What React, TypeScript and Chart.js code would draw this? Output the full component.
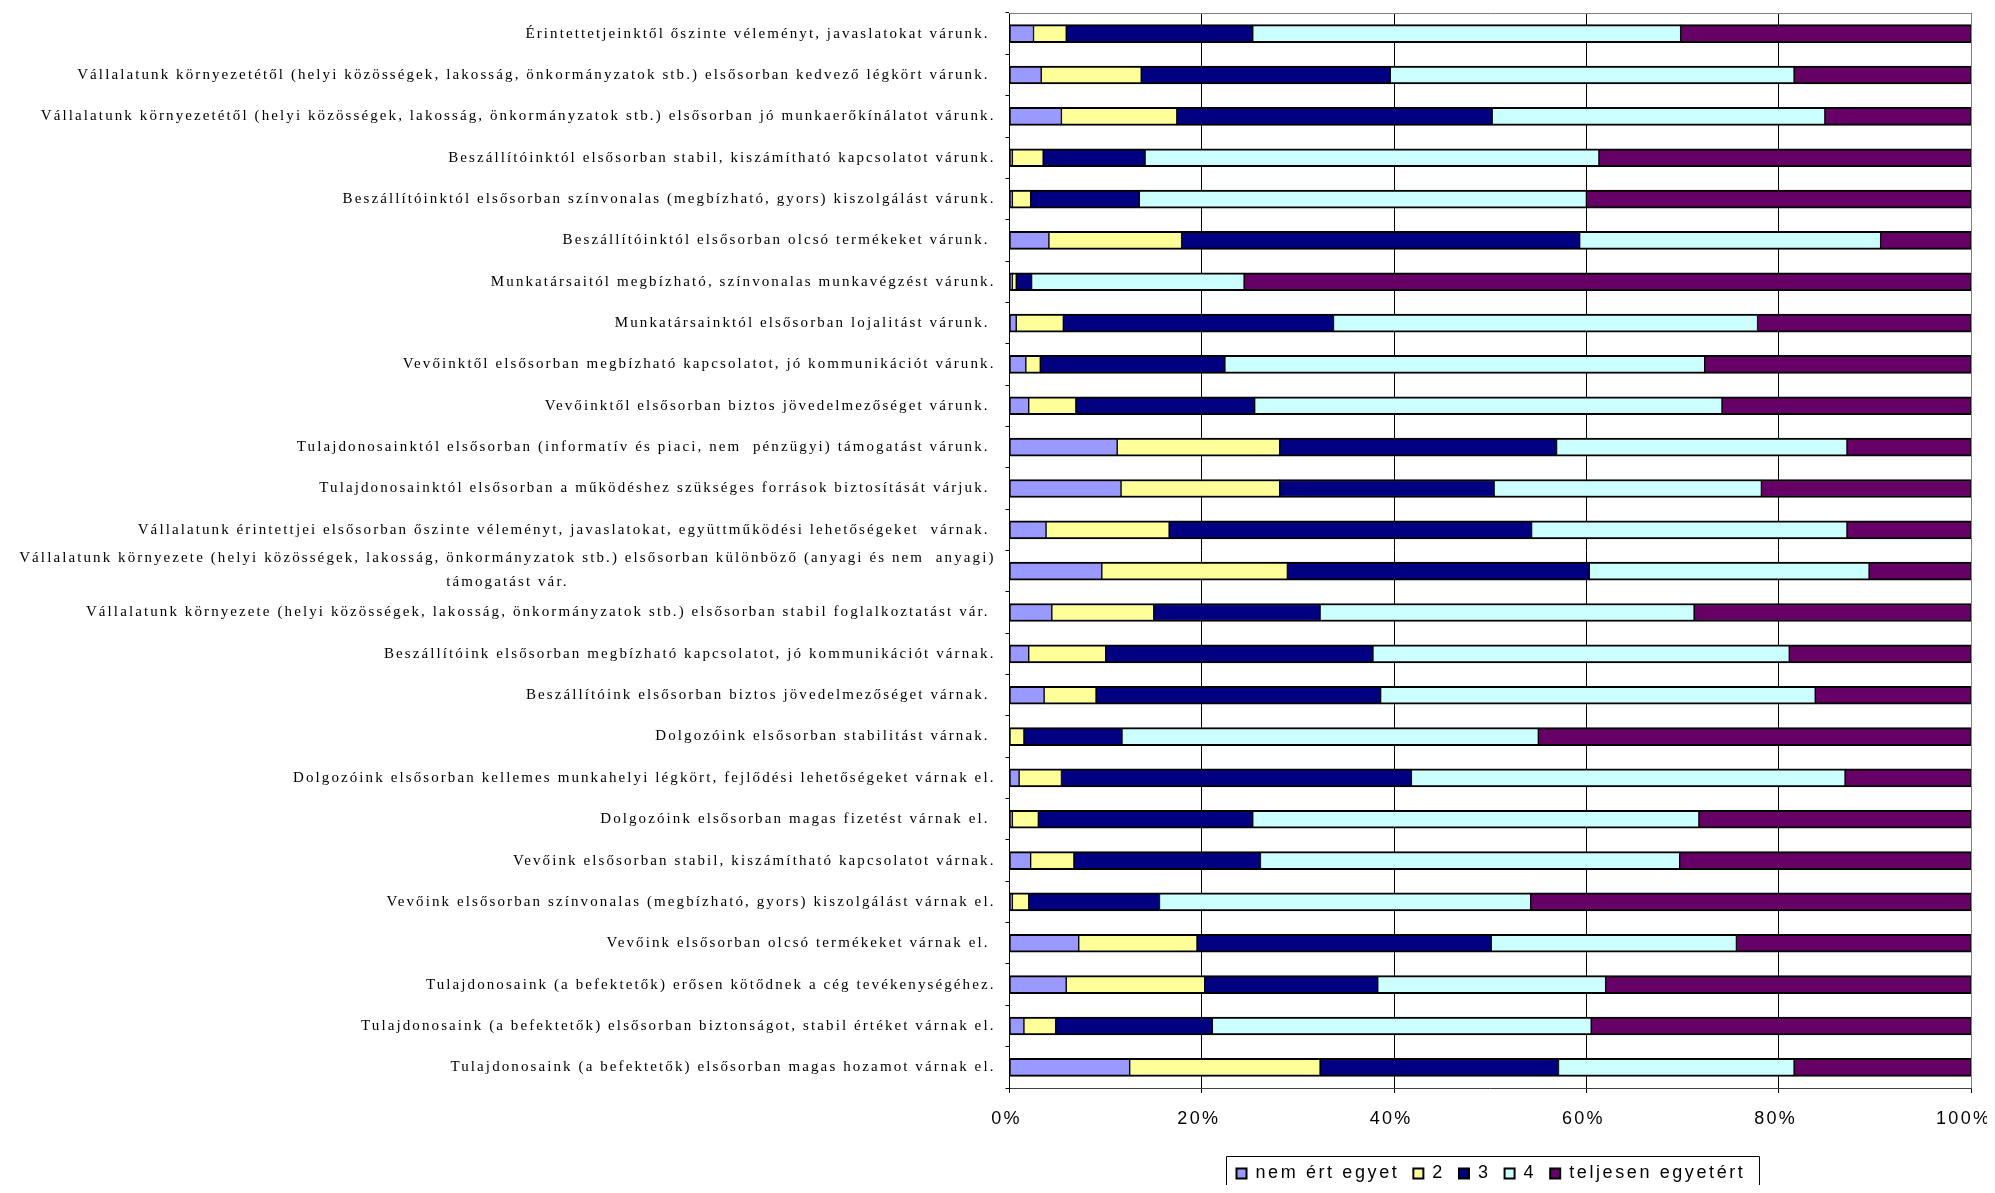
import React, { useEffect, useRef } from "react";
import { Chart, registerables } from "chart.js";

Chart.register(...registerables);

// Statements (top to bottom)
const categories: (string | string[])[] = [
  "Érintettetjeinktől őszinte véleményt, javaslatokat várunk. ",
  "Vállalatunk környezetétől (helyi közösségek, lakosság, önkormányzatok stb.) elsősorban kedvező légkört várunk. ",
  "Vállalatunk környezetétől (helyi közösségek, lakosság, önkormányzatok stb.) elsősorban jó munkaerőkínálatot várunk.",
  "Beszállítóinktól elsősorban stabil, kiszámítható kapcsolatot várunk.",
  "Beszállítóinktól elsősorban színvonalas (megbízható, gyors) kiszolgálást várunk.",
  "Beszállítóinktól elsősorban olcsó termékeket várunk. ",
  "Munkatársaitól megbízható, színvonalas munkavégzést várunk.",
  "Munkatársainktól elsősorban lojalitást várunk. ",
  "Vevőinktől elsősorban megbízható kapcsolatot, jó kommunikációt várunk.",
  "Vevőinktől elsősorban biztos jövedelmezőséget várunk. ",
  "Tulajdonosainktól elsősorban (informatív és piaci, nem  pénzügyi) támogatást várunk. ",
  "Tulajdonosainktól elsősorban a működéshez szükséges források biztosítását várjuk. ",
  "Vállalatunk érintettjei elsősorban őszinte véleményt, javaslatokat, együttműködési lehetőségeket  várnak. ",
  [
    "Vállalatunk környezete (helyi közösségek, lakosság, önkormányzatok stb.) elsősorban különböző (anyagi és nem  anyagi)",
    "támogatást vár.",
  ],
  "Vállalatunk környezete (helyi közösségek, lakosság, önkormányzatok stb.) elsősorban stabil foglalkoztatást vár. ",
  "Beszállítóink elsősorban megbízható kapcsolatot, jó kommunikációt várnak.",
  "Beszállítóink elsősorban biztos jövedelmezőséget várnak. ",
  "Dolgozóink elsősorban stabilitást várnak. ",
  "Dolgozóink elsősorban kellemes munkahelyi légkört, fejlődési lehetőségeket várnak el.",
  "Dolgozóink elsősorban magas fizetést várnak el. ",
  "Vevőink elsősorban stabil, kiszámítható kapcsolatot várnak.",
  "Vevőink elsősorban színvonalas (megbízható, gyors) kiszolgálást várnak el.",
  "Vevőink elsősorban olcsó termékeket várnak el. ",
  "Tulajdonosaink (a befektetők) erősen kötődnek a cég tevékenységéhez.",
  "Tulajdonosaink (a befektetők) elsősorban biztonságot, stabil értéket várnak el.",
  "Tulajdonosaink (a befektetők) elsősorban magas hozamot várnak el.",
];

// Share of answers (%) per statement
const nemErtEgyet = [
  2.5, 3.3, 5.4, 0.3, 0.3, 4.1, 0.3, 0.7, 1.7, 2.0, 11.2, 11.6, 3.8,
  9.6, 4.4, 2.0, 3.6, 0, 1.0, 0.3, 2.2, 0.3, 7.2, 5.9, 1.5, 12.5,
];
const ketto = [
  3.4, 10.4, 12.0, 3.2, 1.9, 13.8, 0.4, 4.9, 1.5, 4.9, 16.9, 16.5, 12.8,
  19.3, 10.6, 8.0, 5.4, 1.5, 4.4, 2.7, 4.5, 1.7, 12.3, 14.4, 3.3, 19.8,
];
const harom = [
  19.4, 25.9, 32.8, 10.6, 11.3, 41.4, 1.6, 28.1, 19.2, 18.6, 28.8, 22.3, 37.7,
  31.4, 17.3, 27.8, 29.6, 10.2, 36.4, 22.3, 19.4, 13.6, 30.6, 18.0, 16.3, 24.8,
];
const negy = [
  44.5, 42.0, 34.6, 47.2, 46.5, 31.3, 22.1, 44.1, 49.9, 48.6, 30.2, 27.8, 32.8,
  29.1, 38.9, 43.3, 45.2, 43.3, 45.1, 46.4, 43.6, 38.6, 25.5, 23.7, 39.4, 24.5,
];
const teljesenEgyetert = [
  30.2, 18.4, 15.2, 38.7, 40.0, 9.4, 75.6, 22.2, 27.7, 25.9, 12.9, 21.8, 12.9,
  10.6, 28.8, 18.9, 16.2, 45.0, 13.1, 28.3, 30.3, 45.8, 24.4, 38.0, 39.5, 18.4,
];

const seriesNames = ["nem ért egyet", "2", "3", "4", "teljesen egyetért"];
const seriesColors = ["#9999FF", "#FFFF99", "#000080", "#CCFFFF", "#660066"];
const xTicks = [0, 20, 40, 60, 80, 100];

const LABEL_FONT = '15px "Liberation Serif", "Times New Roman", serif';
const AXIS_FONT = '18px "Liberation Sans", Arial, sans-serif';

const decorations = {
  id: "decorations",
  beforeDatasetsDraw(chart: any) {
    const { ctx, chartArea } = chart;
    ctx.save();
    ctx.strokeStyle = "#808080";
    ctx.lineWidth = 1;
    ctx.beginPath();
    ctx.moveTo(chartArea.left, chartArea.top + 0.5);
    ctx.lineTo(chartArea.right, chartArea.top + 0.5);
    ctx.stroke();
    ctx.restore();
  },
  afterDraw(chart: any) {
    const { ctx, chartArea } = chart;
    const yScale = chart.scales.y;
    const xScale = chart.scales.x;
    ctx.save();

    // statement labels
    ctx.letterSpacing = "2.1px";
    ctx.font = LABEL_FONT;
    ctx.fillStyle = "#000";
    ctx.textBaseline = "middle";
    const xr = chartArea.left - 14;
    categories.forEach((label, i) => {
      const y = yScale.getPixelForValue(i);
      if (Array.isArray(label)) {
        const w0 = ctx.measureText(label[0]).width;
        ctx.textAlign = "right";
        ctx.fillText(label[0], xr, y - 13);
        ctx.textAlign = "center";
        ctx.fillText(label[1], xr - w0 / 2, y + 11);
      } else {
        ctx.textAlign = "right";
        ctx.fillText(label, xr, y);
      }
    });

    // percent labels under the value axis
    const spacing = 2.3;
    ctx.font = AXIS_FONT;
    ctx.letterSpacing = `${spacing}px`;
    ctx.textAlign = "center";
    xTicks.forEach((v) => {
      const text = `${v}%`;
      const w = ctx.measureText(text).width;
      const maxX = chart.width - 6 - w / 2 + spacing;
      const x = Math.min(xScale.getPixelForValue(v) - 3, maxX);
      ctx.fillText(text, x, chartArea.bottom + 31);
    });

    // legend box
    ctx.letterSpacing = "2.6px";
    const marker = 12;
    const gapText = 8;
    const gapItem = 13;
    const padL = 9;
    const padR = 14;
    const widths = seriesNames.map((n) => ctx.measureText(n).width);
    let total = padL + padR + gapItem * (seriesNames.length - 1);
    widths.forEach((w) => (total += marker + gapText + w));
    const boxLeft = Math.round((chartArea.left + chartArea.right) / 2 + 2 - total / 2) + 0.5;
    const boxTop = chartArea.bottom + 68.5;
    ctx.strokeStyle = "#000";
    ctx.lineWidth = 1;
    ctx.beginPath();
    ctx.moveTo(boxLeft, chart.height + 5);
    ctx.lineTo(boxLeft, boxTop);
    ctx.lineTo(boxLeft + total, boxTop);
    ctx.lineTo(boxLeft + total, chart.height + 5);
    ctx.stroke();

    const cy = boxTop + 17;
    let x = boxLeft + padL;
    ctx.textAlign = "left";
    ctx.textBaseline = "middle";
    seriesNames.forEach((name, i) => {
      ctx.fillStyle = "#000";
      ctx.fillRect(x, cy - marker / 2, marker, marker);
      ctx.fillStyle = seriesColors[i];
      ctx.fillRect(x + 2, cy - marker / 2 + 2, marker - 4, marker - 4);
      x += marker + gapText;
      ctx.fillStyle = "#000";
      ctx.fillText(name, x, cy);
      x += widths[i] + gapItem;
    });

    ctx.restore();
  },
};

export default function App() {
  const canvasRef = useRef<HTMLCanvasElement | null>(null);

  useEffect(() => {
    const canvas = canvasRef.current;
    if (!canvas) return;
    const seriesValues = [nemErtEgyet, ketto, harom, negy, teljesenEgyetert];
    const chart = new Chart(canvas, {
      type: "bar",
      data: {
        labels: categories.map((c) => (Array.isArray(c) ? c.join(" ") : c)),
        datasets: seriesNames.map((name, i) => ({
          label: name,
          data: seriesValues[i],
          backgroundColor: seriesColors[i],
          borderColor: "#000",
          borderWidth: { top: 2, bottom: 2, left: 1, right: 1 },
          borderSkipped: false,
          barThickness: 18,
        })),
      },
      options: {
        indexAxis: "y",
        responsive: false,
        animation: false,
        layout: { padding: { top: 5, right: 24, left: 0, bottom: 0 } },
        plugins: {
          legend: { display: false },
          tooltip: { enabled: false },
        },
        scales: {
          x: {
            stacked: true,
            min: 0,
            max: 100,
            afterBuildTicks: (s: any) => {
              s.ticks = xTicks.map((v) => ({ value: v }));
            },
            ticks: { display: false },
            grid: {
              color: (c: any) => (c.tick && c.tick.value === 100 ? "#808080" : "#000"),
              lineWidth: 1,
              drawTicks: true,
              tickLength: 5,
              tickColor: "#000",
            },
            border: { color: "#404040", width: 1 },
            afterFit: (s: any) => {
              s.height = 105;
              s.paddingLeft = 0;
              s.paddingRight = 0;
            },
          },
          y: {
            stacked: true,
            ticks: { display: false },
            grid: {
              drawOnChartArea: false,
              drawTicks: true,
              tickLength: 4,
              tickColor: "#000",
            },
            border: { color: "#000", width: 1 },
            afterFit: (s: any) => {
              s.width = 1001.5;
            },
          },
        },
      },
      plugins: [decorations],
    } as any);
    return () => chart.destroy();
  }, []);

  return (
    <div style={{ width: 1987, height: 1185, marginBottom: -8, marginRight: -8 }}>
      <canvas ref={canvasRef} width={1987} height={1185} style={{ display: "block" }} />
    </div>
  );
}
